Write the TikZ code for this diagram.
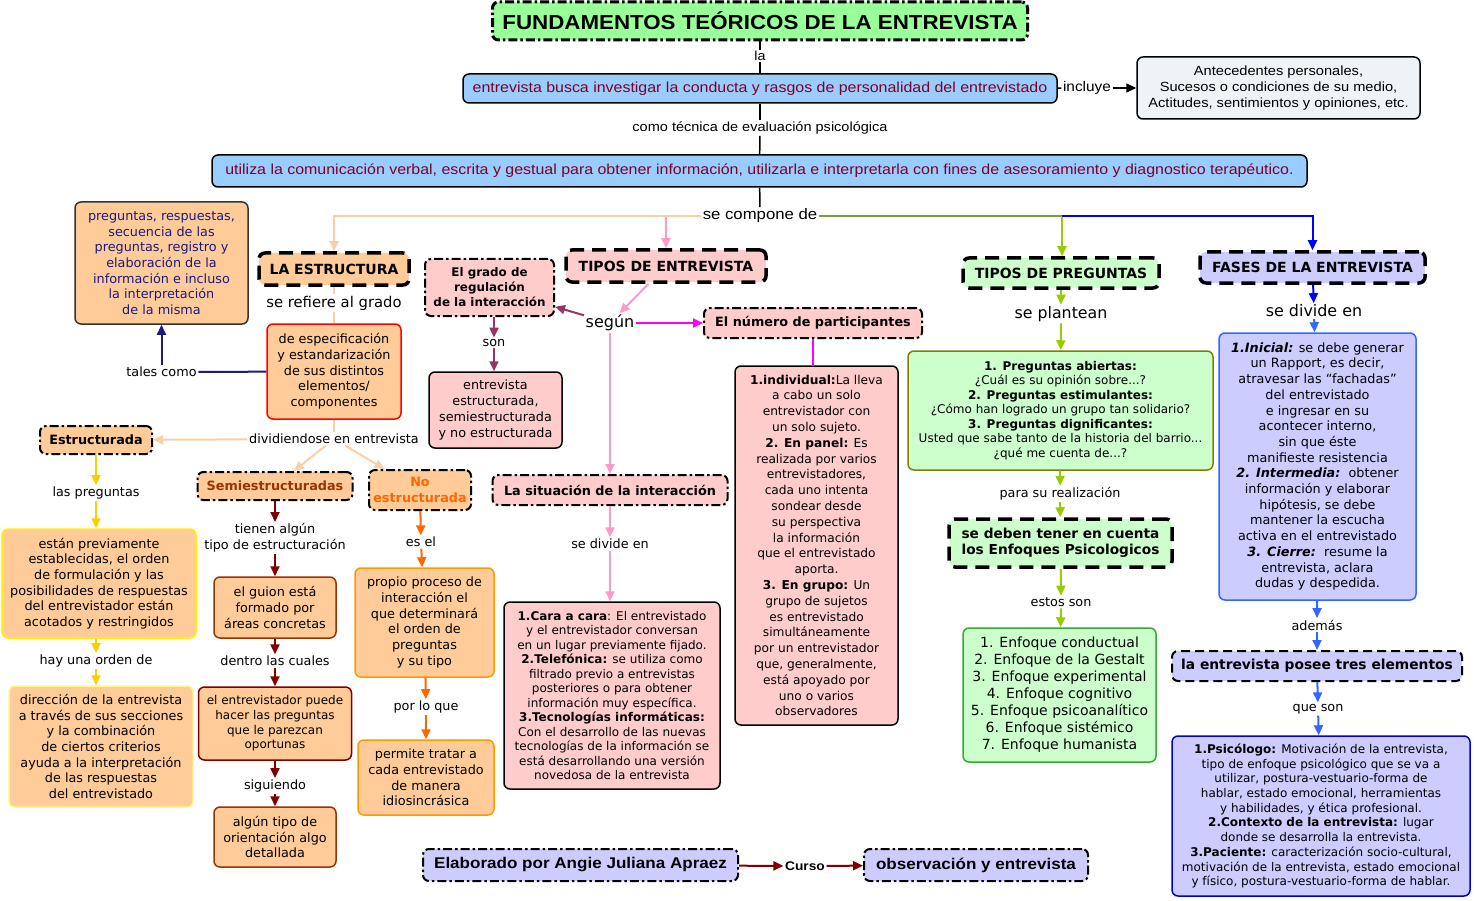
\documentclass[tikz,border=0pt]{standalone}
\usepackage{fontspec}
\setmainfont{DejaVu Sans}
\newfontfamily\tah[FakeStretch=1.1]{Liberation Sans}
\usetikzlibrary{arrows.meta}

\definecolor{peach}{HTML}{FFCC99}
\definecolor{rosa}{HTML}{FFCCCC}
\definecolor{verdec}{HTML}{CCFFCC}
\definecolor{lila}{HTML}{CCCCFF}
\definecolor{celeste}{HTML}{99CCFF}
\definecolor{titverde}{HTML}{99FF99}
\definecolor{grisazul}{HTML}{EEF3F6}
\definecolor{granate}{HTML}{800020}
\definecolor{marino}{HTML}{1A1A80}
\definecolor{lpeach}{HTML}{FBCFA6}
\definecolor{amarillo}{HTML}{FFCC00}
\definecolor{vino}{HTML}{800000}
\definecolor{cafe}{HTML}{993300}
\definecolor{naranja}{HTML}{FF6600}
\definecolor{naranjab}{HTML}{FF9900}
\definecolor{rosal}{HTML}{FF99CC}
\definecolor{morado}{HTML}{993366}
\definecolor{fucsia}{HTML}{FF00FF}
\definecolor{oliva}{HTML}{77A03C}
\definecolor{limon}{HTML}{99CC00}
\definecolor{azul}{HTML}{0000FF}
\definecolor{azulc}{HTML}{3366FF}
\definecolor{azulo}{HTML}{0000CC}
\definecolor{verdeb}{HTML}{33AA33}
\definecolor{olivob}{HTML}{808000}

\newcommand\ftxt{\fontsize{12.8}{15.7}\selectfont}
\newcommand\ftit{\fontsize{14}{17}\selectfont\bfseries}

\begin{document}
\begin{tikzpicture}[x=1pt, y=-1pt, >={Triangle[length=10pt,width=9pt]},
  concepto/.style={draw, rounded corners=6pt, line width=1.5pt, align=center, inner sep=2pt, font=\ftxt},
  rayas/.style={concepto, line width=3.5pt, dash pattern=on 14pt off 8pt, font=\ftit},
  punteo/.style={concepto, line width=2pt, dash pattern=on 9pt off 3pt on 2.5pt off 3pt},
  enlace/.style={inner sep=1.5pt, align=center, font=\ftxt},
  linea/.style={line width=2pt}]

\useasboundingbox (0,0) rectangle (1474,901);

% cabecera
\node[punteo, fill=titverde, line width=3pt, minimum width=535, minimum height=38, font={\tah\bfseries\fontsize{20.3}{24}\selectfont}] (tit) at (760,21) {FUNDAMENTOS TEÓRICOS DE LA ENTREVISTA};
\node[enlace, font={\tah\fontsize{13}{15}\selectfont}] (la) at (760,56) {la};
\node[concepto, fill=celeste, text=granate, minimum width=594, minimum height=29, font={\tah\fontsize{14.5}{17}\selectfont}] (busca) at (760,88.5) {entrevista busca investigar la conducta y rasgos de personalidad del entrevistado};
\node[enlace, font={\tah\fontsize{14}{16}\selectfont}] (incl) at (1087,88) {incluye};
\node[concepto, fill=grisazul, minimum width=283, minimum height=62, font={\tah\fontsize{13.3}{16}\selectfont}] (ante) at (1278.5,88) {Antecedentes personales,\\Sucesos o condiciones de su medio,\\Actitudes, sentimientos y opiniones, etc.};
\node[enlace, font={\tah\fontsize{13.2}{15}\selectfont}] (tec) at (760,128) {como técnica de evaluación psicológica};
\node[concepto, fill=celeste, text=granate, minimum width=1095, minimum height=32, font={\tah\fontsize{14.5}{17}\selectfont}] (util) at (759.5,171) {utiliza la comunicación verbal, escrita y gestual para obtener información, utilizarla e interpretarla con fines de asesoramiento y diagnostico terapéutico.};
\node[enlace, font={\tah\fontsize{15.2}{17}\selectfont}] (comp) at (760,216) {se compone de};
\coordinate (nudo) at (1062,216);

% la estructura
\node[concepto, fill=peach, draw=black!80, text=marino, minimum width=173, minimum height=122] (preg) at (161.5,263) {preguntas, respuestas,\\secuencia de las\\preguntas, registro y\\elaboración de la\\información e incluso\\la interpretación\\de la misma};
\node[rayas, fill=peach, minimum width=150, minimum height=32] (estruc) at (334,269) {LA ESTRUCTURA};
\node[enlace, font=\fontsize{14.8}{17}\selectfont] (grado) at (334,303) {se refiere al grado};
\node[concepto, fill=peach, draw=red, minimum width=134, minimum height=95] (espec) at (334,371.5) {de especificación\\y estandarización\\de sus distintos\\elementos/\\componentes};
\node[enlace] (tales) at (161.5,372) {tales como};
\node[enlace] (divid) at (334,439) {dividiendose en entrevista};

\node[punteo, fill=peach, font=\ftxt\bfseries, minimum width=112, minimum height=28] (estr) at (96,440) {Estructurada};
\node[enlace] (lpreg) at (96,493) {las preguntas};
\node[concepto, fill=peach, draw=yellow, minimum width=194, minimum height=109] (prev) at (99,583.5) {están previamente\\establecidas, el orden\\de formulación y las\\posibilidades de respuestas\\del entrevistador están\\acotados y restringidos};
\node[enlace] (orden) at (96,661) {hay una orden de};
\node[concepto, fill=peach, draw=yellow!50, minimum width=184, minimum height=121] (direc) at (101,746.5) {dirección de la entrevista\\a través de sus secciones\\y la combinación\\de ciertos criterios\\ayuda a la interpretación\\de las respuestas\\del entrevistado};

\node[punteo, fill=peach, text=cafe, font=\ftxt\bfseries, minimum width=155, minimum height=28] (semi) at (275,486) {Semiestructuradas};
\node[enlace] (tien) at (275,538) {tienen algún\\tipo de estructuración};
\node[concepto, fill=peach, draw=cafe, minimum width=122, minimum height=61] (guion) at (275,607.5) {el guion está\\formado por\\áreas concretas};
\node[enlace] (dentro) at (275,661) {dentro las cuales};
\node[concepto, fill=peach, draw=vino, minimum width=153, minimum height=73, font=\fontsize{12}{14.7}\selectfont] (puede) at (275,723.5) {el entrevistador puede\\hacer las preguntas\\que le parezcan\\oportunas};
\node[enlace] (sigu) at (275,786) {siguiendo};
\node[concepto, fill=peach, draw=cafe, minimum width=122, minimum height=60] (orient) at (275,837) {algún tipo de\\orientación algo\\detallada};

\node[punteo, fill=peach, text=naranja, font=\ftxt\bfseries, minimum width=102, minimum height=40] (noest) at (420,490) {No\\estructurada};
\node[enlace] (esel) at (421,542) {es el};
\node[concepto, fill=peach, draw=naranjab, minimum width=139, minimum height=109] (proceso) at (424.5,622.5) {propio proceso de\\interacción el\\que determinará\\el orden de\\preguntas\\y su tipo};
\node[enlace] (porlo) at (426,707) {por lo que};
\node[concepto, fill=peach, draw=naranjab, minimum width=136, minimum height=75] (tratar) at (426,777.5) {permite tratar a\\cada entrevistado\\de manera\\idiosincrásica};

% tipos de entrevista
\node[rayas, fill=rosa, minimum width=200, minimum height=32] (tipent) at (666,266) {TIPOS DE ENTREVISTA};
\node[enlace, font=\fontsize{16}{18}\selectfont] (segun) at (610,323) {según};
\node[punteo, fill=rosa, font=\fontsize{11.9}{15}\selectfont\bfseries, minimum width=129, minimum height=57] (regul) at (489.5,287.5) {El grado de\\regulación\\de la interacción};
\node[enlace] (son) at (494,343) {son};
\node[concepto, fill=rosa, minimum width=133, minimum height=76] (tiposes) at (495.5,410) {entrevista\\estructurada,\\semiestructurada\\y no estructurada};
\node[punteo, fill=rosa, font=\ftxt\bfseries, minimum width=218, minimum height=30] (numero) at (813,323) {El número de participantes};
\node[concepto, fill=rosa, font=\fontsize{12.2}{15.8}\selectfont, minimum width=163, minimum height=359] (indiv) at (816.5,545.5) {\textbf{1.individual:}La lleva\\a cabo un solo\\entrevistador con\\un solo sujeto.\\\textbf{2. En panel:} Es\\realizada por varios\\entrevistadores,\\cada uno intenta\\sondear desde\\su perspectiva\\la información\\que el entrevistado\\aporta.\\\textbf{3. En grupo:} Un\\grupo de sujetos\\es entrevistado\\simultáneamente\\por un entrevistador\\que, generalmente,\\está apoyado por\\uno o varios\\observadores};
\node[punteo, fill=rosa, font=\ftxt\bfseries, minimum width=235, minimum height=30] (situ) at (610,490) {La situación de la interacción};
\node[enlace] (divsit) at (610,544) {se divide en};
\node[concepto, fill=rosa, font=\fontsize{12}{14.5}\selectfont, minimum width=216, minimum height=187] (cara) at (612,695.5) {\textbf{1.Cara a cara}: El entrevistado\\y el entrevistador conversan\\en un lugar previamente fijado.\\\textbf{2.Telefónica:} se utiliza como\\filtrado previo a entrevistas\\posteriores o para obtener\\información muy específica.\\\textbf{3.Tecnologías informáticas:}\\Con el desarrollo de las nuevas\\tecnologías de la información se\\está desarrollando una versión\\novedosa de la entrevista};

% tipos de preguntas
\node[rayas, fill=verdec, minimum width=196, minimum height=30] (tippreg) at (1061,273) {TIPOS DE PREGUNTAS};
\node[enlace, font=\fontsize{15.8}{18}\selectfont] (plant) at (1061,314) {se plantean};
\node[concepto, fill=verdec, draw=olivob, font=\fontsize{12}{14.5}\selectfont, minimum width=305, minimum height=119] (abiert) at (1060.5,410.5) {\textbf{1. Preguntas abiertas:}\\¿Cuál es su opinión sobre...?\\\textbf{2. Preguntas estimulantes:}\\¿Cómo han logrado un grupo tan solidario?\\\textbf{3. Preguntas dignificantes:}\\Usted que sabe tanto de la historia del barrio...\\¿qué me cuenta de...?};
\node[enlace] (realiz) at (1060,494) {para su realización};
\node[rayas, fill=verdec, font=\fontsize{13.7}{16}\selectfont\bfseries, minimum width=223, minimum height=48] (deben) at (1060.5,543) {se deben tener en cuenta\\los Enfoques Psicologicos};
\node[enlace] (estos) at (1061,602) {estos son};
\node[concepto, fill=verdec, draw=verdeb, font=\fontsize{14}{17}\selectfont, minimum width=193, minimum height=134] (enfoq) at (1059.5,695) {1. Enfoque conductual\\2. Enfoque de la Gestalt\\3. Enfoque experimental\\4. Enfoque cognitivo\\5. Enfoque psicoanalítico\\6. Enfoque sistémico\\7. Enfoque humanista};

% fases
\node[rayas, fill=lila, minimum width=225, minimum height=31] (fases) at (1312.5,267.5) {FASES DE LA ENTREVISTA};
\node[enlace, font=\fontsize{15.9}{18}\selectfont] (divf) at (1314,311) {se divide en};
\node[concepto, fill=lila, draw=azulc, minimum width=197, minimum height=267] (etapas) at (1317.5,466.5) {\textbf{\textit{1.Inicial:}} se debe generar\\un Rapport, es decir,\\atravesar las “fachadas”\\del entrevistado\\e ingresar en su\\acontecer interno,\\sin que éste\\manifieste resistencia\\\textbf{\textit{2. Intermedia:}}\ \ obtener\\información y elaborar\\hipótesis, se debe\\mantener la escucha\\activa en el entrevistado\\\textbf{\textit{3. Cierre:}}\ \ resume la\\entrevista, aclara\\dudas y despedida.};
\node[enlace] (ademas) at (1317,625) {además};
\node[concepto, fill=lila, line width=2pt, dash pattern=on 9pt off 5pt, font=\fontsize{13.8}{16}\selectfont\bfseries, minimum width=290, minimum height=30] (elem) at (1317,666) {la entrevista posee tres elementos};
\node[enlace] (queson) at (1318,709) {que son};
\node[concepto, fill=lila, draw=azulo, font=\fontsize{12}{14.7}\selectfont, minimum width=298, minimum height=160] (psico) at (1321,816) {\textbf{1.Psicólogo:} Motivación de la entrevista,\\tipo de enfoque psicológico que se va a\\utilizar, postura-vestuario-forma de\\hablar, estado emocional, herramientas\\y habilidades, y ética profesional.\\\textbf{2.Contexto de la entrevista:} lugar\\donde se desarrolla la entrevista.\\\textbf{3.Paciente:} caracterización socio-cultural,\\motivación de la entrevista, estado emocional\\y físico, postura-vestuario-forma de hablar.};

% pie
\node[punteo, fill=lila, font={\tah\bfseries\fontsize{15.5}{18}\selectfont}, minimum width=315, minimum height=32] (elab) at (580.5,865) {Elaborado por Angie Juliana Apraez};
\node[enlace, font={\tah\bfseries\fontsize{12.5}{14}\selectfont}] (curso) at (805,866) {Curso};
\node[punteo, fill=lila, font={\tah\bfseries\fontsize{15.5}{18}\selectfont}, minimum width=224, minimum height=32] (obs) at (976,865) {observación y entrevista};

% conectores
\draw[line width=1.5pt] (tit) -- (la);
\draw[line width=1.5pt] (la) -- (busca);
\draw[line width=1.5pt] (busca) -- (incl);
\draw[line width=1.5pt, ->] (incl) -- (ante);
\draw[line width=1.5pt] (busca) -- (tec);
\draw[line width=1.5pt] (tec) -- (util);
\draw[line width=1.5pt] (util) -- (comp);
\draw[linea, rosal, ->] (comp.west) -| (tipent.north);
\draw[linea, lpeach, ->] (comp.west) -| (estruc.north);
\draw[linea, oliva] (comp.east) -- (nudo);
\draw[linea, limon, ->] (nudo) -- (nudo |- tippreg.north);
\draw[linea, azul, ->] (nudo) -| (fases.north);

\draw[linea, lpeach] (estruc) -- (grado);
\draw[linea, lpeach] (grado) -- (espec);
\draw[linea, marino] (espec) -- (tales);
\draw[linea, marino, ->] (tales) -- (preg);
\draw[linea, lpeach] (espec) -- (divid);
\draw[linea, lpeach, ->] (divid) -- (estr);
\draw[linea, lpeach, ->] (divid) -- (semi);
\draw[linea, lpeach, ->] (divid) -- (noest);

\draw[linea, amarillo, ->] (estr) -- (lpreg);
\draw[linea, amarillo, ->] (lpreg) -- (lpreg |- prev.north);
\draw[linea, amarillo, ->] (orden |- prev.south) -- (orden);
\draw[linea, amarillo, ->] (orden) -- (orden |- direc.north);

\draw[linea, vino, ->] (semi) -- (tien);
\draw[linea, vino, ->] (tien) -- (guion);
\draw[linea, vino, ->] (guion) -- (dentro);
\draw[linea, vino, ->] (dentro) -- (puede);
\draw[linea, vino, ->] (puede) -- (sigu);
\draw[linea, vino, ->] (sigu) -- (orient);

\draw[linea, naranja, ->] (noest) -- (esel);
\draw[linea, naranja, ->] (esel) -- (proceso);
\draw[linea, naranja, ->] (proceso) -- (porlo);
\draw[linea, naranja, ->] (porlo) -- (tratar);

\draw[linea, rosal, ->] (tipent) -- (segun);
\draw[linea, morado, ->] (segun) -- (regul);
\draw[linea, fucsia, ->] (segun) -- (numero);
\draw[linea, rosal, ->] (segun) -- (situ);
\draw[linea, morado, ->] (son |- regul.south) -- (son);
\draw[linea, morado, ->] (son) -- (son |- tiposes.north);
\draw[linea, fucsia] (numero) -- (numero |- indiv.north);
\draw[linea, rosal, ->] (situ) -- (divsit);
\draw[linea, rosal, ->] (divsit) -- (divsit |- cara.north);

\draw[linea, limon, ->] (tippreg) -- (plant);
\draw[linea, limon, ->] (plant) -- (abiert);
\draw[linea, limon, ->] (abiert) -- (realiz);
\draw[linea, limon, ->] (realiz) -- (deben);
\draw[linea, limon, ->] (deben) -- (estos);
\draw[linea, limon, ->] (estos) -- (enfoq);

\draw[linea, azul, ->] (fases) -- (divf);
\draw[linea, azulc, ->] (divf) -- (etapas);
\draw[linea, azulc, ->] (etapas) -- (ademas);
\draw[linea, azulc, ->] (ademas) -- (elem);
\draw[linea, azulc, ->] (elem) -- (queson);
\draw[linea, azulc, ->] (queson) -- (psico);

\draw[linea, vino, ->] (elab) -- (curso);
\draw[linea, vino, ->] (curso) -- (obs);
\end{tikzpicture}
\end{document}
